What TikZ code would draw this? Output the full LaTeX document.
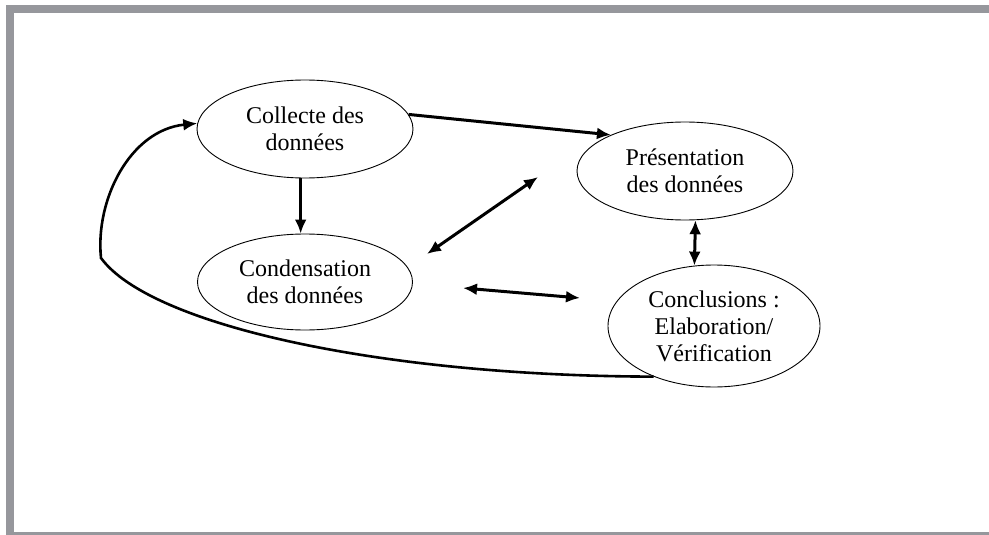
\documentclass[tikz,border=0pt]{standalone}
\usepackage{fontspec}
\setmainfont{Liberation Serif}
\usepackage{xcolor}
\usepackage{tikz}
\usetikzlibrary{shapes.geometric, arrows.meta}
\definecolor{framegray}{RGB}{150, 151, 156}
\tikzset{
  stageellipse/.style={draw, ellipse, line width=0.9pt, inner sep=0pt, align=center,
    font=\fontsize{24}{27}\selectfont},
  flowarrow/.style={line width=3pt, -{Latex[length=14pt,width=12pt]}},
  botharrow/.style={line width=3pt, {Latex[length=14pt,width=12pt]}-{Latex[length=14pt,width=12pt]}}
}

\begin{document}
\begin{tikzpicture}[x=1pt, y=-1pt]
    \useasboundingbox (0,0) rectangle (989,535);
    \clip (0,0) rectangle (989,535);
    % frame
    \draw[framegray, line width=8pt] (9.5,9) rectangle (1010,536);
    % stages
    \node[stageellipse, minimum width=216pt, minimum height=98pt] (collecte) at (305,129) {Collecte des\\données};
    \node[stageellipse, minimum width=216pt, minimum height=98pt] (presentation) at (685,171) {Présentation\\des données};
    \node[stageellipse, minimum width=215pt, minimum height=96pt] (condensation) at (305,282) {Condensation\\des données};
    \node[stageellipse, minimum width=212pt, minimum height=122pt] (conclusions) at (714,326) {Conclusions :\\Elaboration/\\Vérification};
    % free ends of the middle arrows
    \coordinate (diagLow) at (427,254);
    \coordinate (diagHigh) at (538,177);
    \coordinate (horizLeft) at (463,288);
    \coordinate (horizRight) at (580,298);
    % connectors
    \draw[flowarrow] (collecte.8) -- (presentation.154);
    \draw[flowarrow] (collecte.265) -- (collecte.265 |- condensation.north);
    \draw[botharrow] (diagLow) -- (diagHigh);
    \draw[botharrow] (horizLeft) -- (horizRight);
    \draw[botharrow] (presentation.-78) -- (conclusions.108);
    \draw[flowarrow, line width=2.6pt] (conclusions.220) .. controls (380,376) and (150,325) .. (101,258)
        .. controls (95,200) and (130,130) .. (collecte.177);
\end{tikzpicture}
\end{document}
